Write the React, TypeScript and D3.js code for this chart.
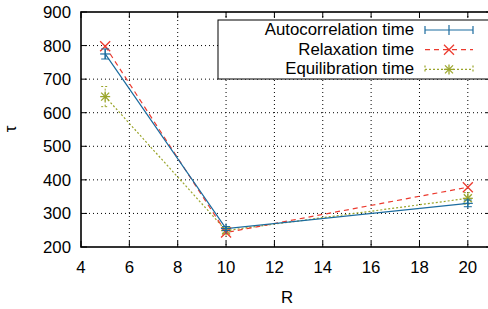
import React from "react";
import * as d3 from "d3";

const W = 488;
const H = 309;

const radii = [5, 10, 20];
const autoVals = [775, 255, 330];
const autoErr = [15, 6, 10];
const relaxVals = [798, 243, 378];
const equilVals = [648, 249, 345];
const equilErr = [30, 8, 17];

const xTicks = [4, 6, 8, 10, 12, 14, 16, 18, 20];
const yTicks = [200, 300, 400, 500, 600, 700, 800, 900];

const FONT = "'Liberation Sans', Arial, sans-serif";
const FS = 16.8;
const BLUE = "#1b6c9f";
const RED = "#ec3a2e";
const OLIVE = "#9aa52a";

const x = d3.scaleLinear().domain([4, 21]).range([81, 492]);
const y = d3.scaleLinear().domain([200, 900]).range([247, 12]);

function Plus({ cx, cy, c }: { cx: number; cy: number; c: string }) {
  return (
    <g stroke={c} strokeWidth={1.2}>
      <line x1={cx - 5} x2={cx + 5} y1={cy} y2={cy} />
      <line x1={cx} x2={cx} y1={cy - 5} y2={cy + 5} />
    </g>
  );
}

function Cross({ cx, cy, c }: { cx: number; cy: number; c: string }) {
  return (
    <g stroke={c} strokeWidth={1.3}>
      <line x1={cx - 5} x2={cx + 5} y1={cy - 5} y2={cy + 5} />
      <line x1={cx - 5} x2={cx + 5} y1={cy + 5} y2={cy - 5} />
    </g>
  );
}

function Star({ cx, cy, c }: { cx: number; cy: number; c: string }) {
  return (
    <g stroke={c} strokeWidth={1.3} strokeDasharray="none">
      <line x1={cx - 5} x2={cx + 5} y1={cy} y2={cy} />
      <line x1={cx} x2={cx} y1={cy - 5} y2={cy + 5} />
      <line x1={cx - 4} x2={cx + 4} y1={cy - 4} y2={cy + 4} />
      <line x1={cx - 4} x2={cx + 4} y1={cy + 4} y2={cy - 4} />
    </g>
  );
}

function ErrBar({ cx, v, e, c, dash }: { cx: number; v: number; e: number; c: string; dash?: string }) {
  const y0 = y(v - e);
  const y1 = y(v + e);
  return (
    <g stroke={c} strokeWidth={1} strokeDasharray={dash}>
      <line x1={cx} x2={cx} y1={y0} y2={y1} />
      <line x1={cx - 4} x2={cx + 4} y1={y0} y2={y0} />
      <line x1={cx - 4} x2={cx + 4} y1={y1} y2={y1} />
    </g>
  );
}

export default function App() {
  const line = d3
    .line<number>()
    .x((_, i) => x(radii[i]))
    .y((d) => y(d));
  const left = x.range()[0];
  const right = x.range()[1];
  const top = y.range()[1];
  const bottom = y.range()[0];

  const legendRows = [
    { label: "Autocorrelation time", c: BLUE },
    { label: "Relaxation time", c: RED },
    { label: "Equilibration time", c: OLIVE },
  ];

  return (
    <svg
      width={W}
      height={H}
      style={{ position: "absolute", left: 0, top: 0, background: "#fff" }}
      fontFamily={FONT}
    >
      {/* grid */}
      <g stroke="#000" strokeWidth={1} strokeDasharray="1,3">
        {xTicks.slice(1).map((t) => (
          <line key={"gx" + t} x1={x(t)} x2={x(t)} y1={top} y2={bottom} />
        ))}
        {yTicks.slice(1, -1).map((t) => (
          <line key={"gy" + t} x1={left} x2={right} y1={y(t)} y2={y(t)} />
        ))}
      </g>
      {/* ticks */}
      <g stroke="#000" strokeWidth={1}>
        {xTicks.map((t) => (
          <g key={"tx" + t}>
            <line x1={x(t)} x2={x(t)} y1={bottom} y2={bottom - 6} />
            <line x1={x(t)} x2={x(t)} y1={top} y2={top + 6} />
          </g>
        ))}
        {yTicks.map((t) => (
          <g key={"ty" + t}>
            <line x1={left} x2={left + 6} y1={y(t)} y2={y(t)} />
            <line x1={right} x2={right - 6} y1={y(t)} y2={y(t)} />
          </g>
        ))}
      </g>
      <rect x={left} y={top} width={right - left} height={bottom - top} fill="none" stroke="#000" strokeWidth={1.6} />

      {/* tick labels */}
      <g fontSize={FS} fill="#000">
        {xTicks.map((t) => (
          <text key={"lx" + t} x={x(t)} y={bottom + 26} textAnchor="middle">
            {t}
          </text>
        ))}
        {yTicks.map((t) => (
          <text key={"ly" + t} x={left - 10} y={y(t) + 6} textAnchor="end">
            {t}
          </text>
        ))}
      </g>
      <text x={287} y={303} fontSize={FS} textAnchor="middle">R</text>
      <text
        x={0}
        y={0}
        fontSize={FS}
        textAnchor="middle"
        transform="translate(16,129) rotate(-90)"
      >
        τ
      </text>

      {/* series */}
      <path d={line(equilVals) ?? ""} fill="none" stroke={OLIVE} strokeWidth={1.2} strokeDasharray="2,2" />
      <path d={line(relaxVals) ?? ""} fill="none" stroke={RED} strokeWidth={1.2} strokeDasharray="5,4" />
      <path d={line(autoVals) ?? ""} fill="none" stroke={BLUE} strokeWidth={1.2} />

      {equilVals.map((v, i) => (
        <g key={"e" + i}>
          <ErrBar cx={x(radii[i])} v={v} e={equilErr[i]} c={OLIVE} dash="2,2" />
          <Star cx={x(radii[i])} cy={y(v)} c={OLIVE} />
        </g>
      ))}
      {relaxVals.map((v, i) => (
        <Cross key={"r" + i} cx={x(radii[i])} cy={y(v)} c={RED} />
      ))}
      {autoVals.map((v, i) => (
        <g key={"a" + i}>
          <ErrBar cx={x(radii[i])} v={v} e={autoErr[i]} c={BLUE} />
          <Plus cx={x(radii[i])} cy={y(v)} c={BLUE} />
        </g>
      ))}

      {/* legend */}
      <rect x={218} y={20} width={280} height={59} fill="#fff" stroke="#000" strokeWidth={1} />
      {legendRows.map((r, i) => {
        const ly = 30 + i * 19.7;
        const x0 = 425;
        const x1 = 473;
        const mid = (x0 + x1) / 2;
        return (
          <g key={r.label}>
            <text x={414} y={ly + 5} fontSize={FS} textAnchor="end">
              {r.label}
            </text>
            {i === 0 && (
              <g stroke={BLUE} strokeWidth={1.2}>
                <line x1={x0} x2={x1} y1={ly} y2={ly} />
                <line x1={x0} x2={x0} y1={ly - 4} y2={ly + 4} />
                <line x1={x1} x2={x1} y1={ly - 4} y2={ly + 4} />
                <line x1={mid} x2={mid} y1={ly - 5} y2={ly + 5} />
              </g>
            )}
            {i === 1 && (
              <g>
                <line x1={x0} x2={x1} y1={ly} y2={ly} stroke={RED} strokeWidth={1.2} strokeDasharray="5,4" />
                <Cross cx={mid} cy={ly} c={RED} />
              </g>
            )}
            {i === 2 && (
              <g>
                <g stroke={OLIVE} strokeWidth={1.2} strokeDasharray="2,2">
                  <line x1={x0} x2={x1} y1={ly} y2={ly} />
                  <line x1={x0} x2={x0} y1={ly - 4} y2={ly + 4} />
                  <line x1={x1} x2={x1} y1={ly - 4} y2={ly + 4} />
                </g>
                <Star cx={mid} cy={ly} c={OLIVE} />
              </g>
            )}
          </g>
        );
      })}
    </svg>
  );
}
